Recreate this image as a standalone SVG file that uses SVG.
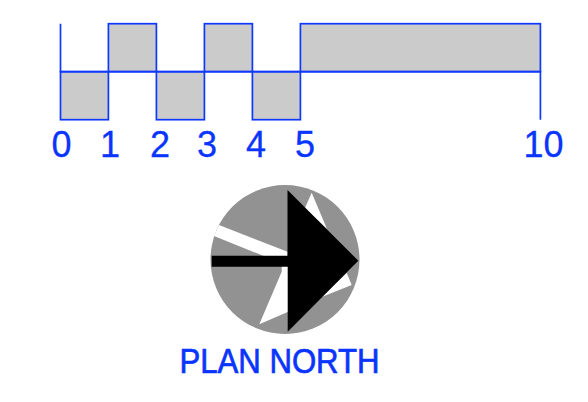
<svg xmlns="http://www.w3.org/2000/svg" width="588" height="402" viewBox="0 0 588 402">
<style>
.bar{fill:#cbcbcb;stroke:#0f38ff;stroke-width:1.7}
.ln{fill:none;stroke:#0f38ff;stroke-width:1.7}
text{font-family:"Liberation Sans",Arial,sans-serif;fill:#0a35ff;stroke:#0a35ff}
.n{font-size:36px;text-anchor:middle;stroke-width:0.3}
</style>
<rect width="588" height="402" fill="#fff"/>
<g id="scale-bar">
<rect class="bar" x="60.5" y="71.7" width="47.9" height="48"/>
<rect class="bar" x="108.4" y="23.7" width="48" height="48"/>
<rect class="bar" x="156.4" y="71.7" width="48" height="48"/>
<rect class="bar" x="204.4" y="23.7" width="48" height="48"/>
<rect class="bar" x="252.4" y="71.7" width="48" height="48"/>
<rect class="bar" x="300.4" y="23.7" width="240" height="48"/>
<path class="ln" d="M60.5 23.7V71.7H540.4V119.7"/>
</g>
<g id="scale-labels">
<text class="n" x="61.5" y="156.5">0</text>
<text class="n" x="110" y="156.5">1</text>
<text class="n" x="160" y="156.5">2</text>
<text class="n" x="207" y="156.5">3</text>
<text class="n" x="256" y="156.5">4</text>
<text class="n" x="305" y="156.5">5</text>
<text class="n" x="543.5" y="156.5">10</text>
</g>
<g id="north-arrow">
<circle cx="285" cy="259.5" r="74.5" fill="#929292"/>
<path fill="#fff" d="M219 225L287.5 251.7V256.5L265 256.5L214 236Z"/>
<path fill="#fff" d="M311.7 192.7L305 208L327 229Z"/>
<path fill="#fff" d="M346.7 273L351.7 285L321.7 297Z"/>
<path fill="#fff" d="M281.7 271.7L259.3 324.3L288.3 311.7V266H281.7Z"/>
<path fill="#000" d="M211.7 255.7H287.5V190L358.3 260.7L287.7 331.7V266.7H211.7Z"/>
</g>
<text id="label" x="279.5" y="373" font-size="34.5" stroke-width="0.7" text-anchor="middle" textLength="200" lengthAdjust="spacingAndGlyphs">PLAN NORTH</text>
</svg>
